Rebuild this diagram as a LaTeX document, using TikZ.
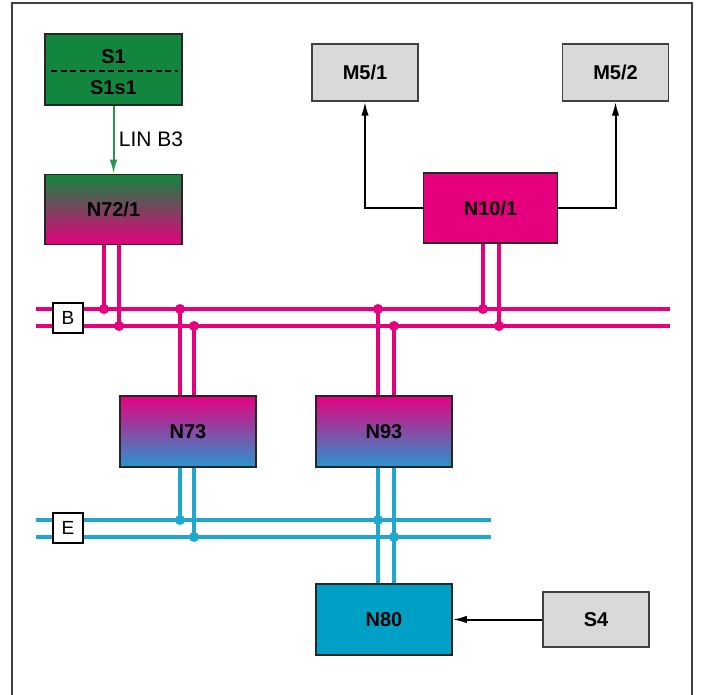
\documentclass[tikz,border=0pt]{standalone}
\usepackage{fontspec}
\setmainfont{Liberation Sans}
\usetikzlibrary{arrows.meta,positioning}

\definecolor{sgreen}{RGB}{18,134,62}
\definecolor{lingreen}{RGB}{40,150,80}
\definecolor{canpink}{RGB}{230,0,126}
\definecolor{diagblue}{RGB}{30,168,208}
\definecolor{ecublue}{RGB}{0,160,198}
\definecolor{mixblue}{RGB}{40,150,205}
\definecolor{partgray}{RGB}{217,217,217}

\begin{document}
\begin{tikzpicture}[x=1pt,y=-1pt,>={Latex[length=14pt,width=7.5pt]},
  ecu node/.style={rectangle,draw=black!85,line width=1.5pt,
  minimum width=136pt,minimum height=71pt,
  font=\fontsize{20}{22}\selectfont\bfseries},
  part node/.style={rectangle,draw=black!75,line width=1.5pt,fill=partgray,
  minimum width=106pt,minimum height=57pt,
  font=\fontsize{20}{22}\selectfont\bfseries},
  bus label/.style={rectangle,draw,fill=white,line width=1.4pt,
  minimum size=30pt,inner sep=0pt,font=\fontsize{19}{20}\selectfont},
  can line/.style={line width=3.2pt,draw=canpink},
  diag line/.style={line width=3.2pt,draw=diagblue},
  tap dot/.style={circle,inner sep=0pt,minimum size=10pt}]

  \useasboundingbox (0,0) rectangle (701,695);
  \draw[black!75,line width=1.1pt] (12,695) |- (692,3) -- (692,695);

  \node[ecu node,fill=sgreen,minimum width=137pt] (S1) at (113.5,69.5) {};
  \node[font=\fontsize{20}{22}\selectfont\bfseries] (S1t) at ([yshift=12.5pt]S1.center) {S1};
  \node[font=\fontsize{20}{22}\selectfont\bfseries] (S1b) at ([yshift=-18.5pt]S1.center) {S1s1};
  \node[ecu node,top color=sgreen,bottom color=canpink,minimum width=137pt,
        minimum height=70pt] (N72) [below=68pt of S1] {N72/1};
  \node[part node] (M51) at (365,72.5)   {M5/1};
  \node[part node] (M52) at (615.5,72.5) {M5/2};
  \node[ecu node,fill=canpink,minimum width=134pt,minimum height=70pt]
    (N10) at (490.5,208) {N10/1};
  \node[ecu node,top color=canpink,bottom color=mixblue] (N73) at (188,431.5) {N73};
  \node[ecu node,top color=canpink,bottom color=mixblue] (N93) at (384,431.5) {N93};
  \node[ecu node,fill=ecublue] (N80) at (384,619.5) {N80};
  \node[part node,minimum height=55pt] (S4) at (596,619.5) {S4};

  \draw[dash pattern=on 6pt off 3.5pt,line width=1.6pt] ([xshift=7pt,yshift=-1.5pt]S1.west)
    -- ([xshift=-5pt,yshift=-1.5pt]S1.east);

  % buses
  \coordinate (B1w) at (36,309);  \coordinate (B1e) at (670,309);
  \coordinate (B2w) at (36,326);  \coordinate (B2e) at (670,326);
  \coordinate (E1w) at (36,520);  \coordinate (E1e) at (491,520);
  \coordinate (E2w) at (36,537);  \coordinate (E2e) at (491,537);
  \draw[can line] (B1w) -- (B1e) (B2w) -- (B2e);
  \draw[diag line] (E1w) -- (E1e) (E2w) -- (E2e);
  \node[bus label] (B) at (68,318) {B};
  \node[bus label] (E) at (68,528) {E};

  % taps on bus B
  \foreach \nd/\xa/\xb in {N72/104/119, N10/483/499} {
    \coordinate (\nd a) at (\xa,309); \coordinate (\nd b) at (\xb,326);
    \draw[can line] (\nd.south -| \nd a) -- (\nd a) node[tap dot,fill=canpink] {};
    \draw[can line] (\nd.south -| \nd b) -- (\nd b) node[tap dot,fill=canpink] {};
  }
  \foreach \nd/\xa/\xb in {N73/180/194, N93/378/394} {
    \coordinate (\nd a) at (\xa,309); \coordinate (\nd b) at (\xb,326);
    \draw[can line] (\nd.north -| \nd a) -- (\nd a) node[tap dot,fill=canpink] {};
    \draw[can line] (\nd.north -| \nd b) -- (\nd b) node[tap dot,fill=canpink] {};
  }

  % taps on bus E
  \coordinate (N73c) at (180,520); \coordinate (N73d) at (194,537);
  \coordinate (N93c) at (378,520); \coordinate (N93d) at (394,537);
  \draw[diag line] (N73.south -| N73c) -- (N73c) node[tap dot,fill=diagblue] {};
  \draw[diag line] (N73.south -| N73d) -- (N73d) node[tap dot,fill=diagblue] {};
  \draw[diag line] (N93.south -| N93c) -- (N80.north -| N93c);
  \draw[diag line] (N93.south -| N93d) -- (N80.north -| N93d);
  \node[tap dot,fill=diagblue] at (N93c) {};
  \node[tap dot,fill=diagblue] at (N93d) {};

  % signal lines
  \draw[->,line width=2pt,lingreen] (S1.south) --
    node[right,black,font=\fontsize{21}{22}\selectfont,xshift=1pt] {LIN B3} (N72.north);
  \draw[->,line width=2pt] (N10.west) -| (M51.south);
  \draw[->,line width=2pt] (N10.east) -| (M52.south);
  \draw[->,line width=2pt] (S4.west) -- (N80.east);

\end{tikzpicture}
\end{document}
